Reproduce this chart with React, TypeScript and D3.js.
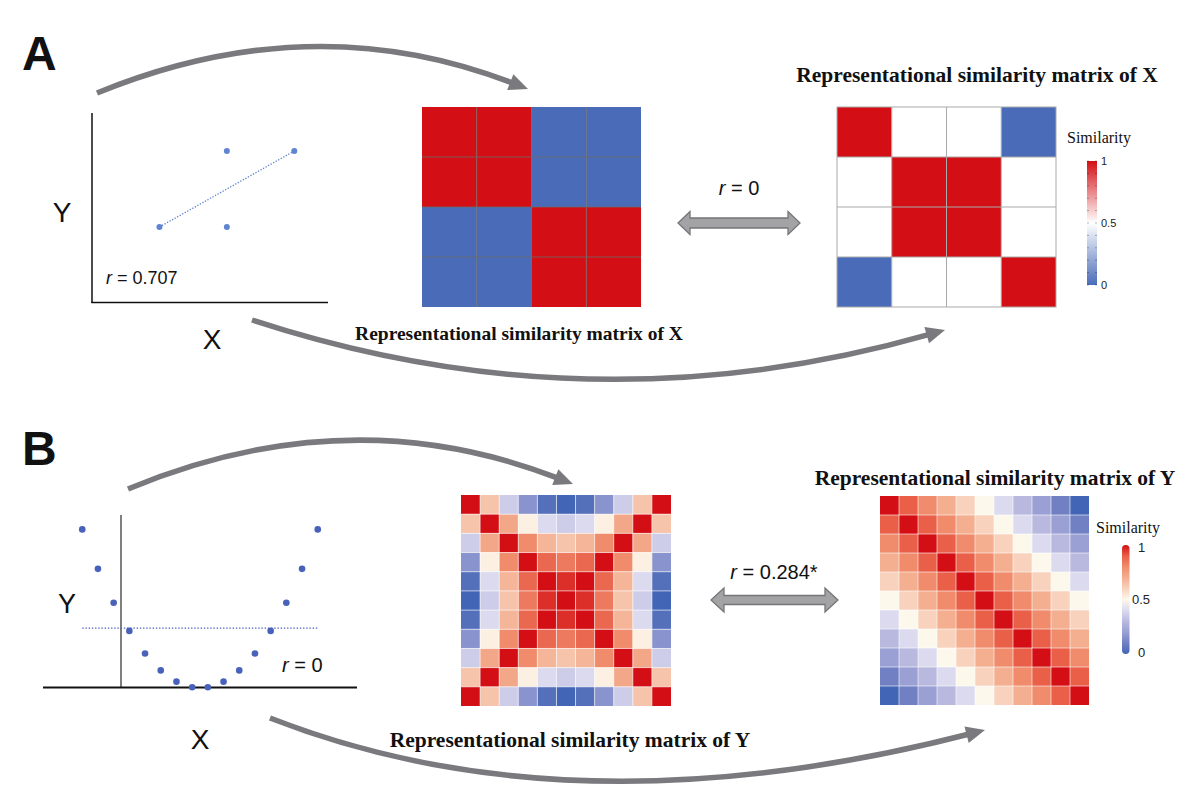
import React from "react";
import * as d3 from "d3";

// ---------- DATA ----------
// Panel A scatter (4 points) and its fitted line
const aPointsX = [1, 2, 2, 3];
const aPointsY = [1, 2, 1, 2];
const aFitX = [1, 3];
const aFitY = [1, 2];
const aR = "0.707";

// Panel A matrices (4x4)
const aMatrixX = [
  [1, 1, 0, 0],
  [1, 1, 0, 0],
  [0, 0, 1, 1],
  [0, 0, 1, 1],
];
const aMatrixRight = [
  [1, 0.5, 0.5, 0],
  [0.5, 1, 1, 0.5],
  [0.5, 1, 1, 0.5],
  [0, 0.5, 0.5, 1],
];
const aBetween = "0";

// Panel B scatter (16 points on a parabola)
const bPointsX = [-7.5, -6.5, -5.5, -4.5, -3.5, -2.5, -1.5, -0.5, 0.5, 1.5, 2.5, 3.5, 4.5, 5.5, 6.5, 7.5];
const bPointsY = [56.25, 42.25, 30.25, 20.25, 12.25, 6.25, 2.25, 0.25, 0.25, 2.25, 6.25, 12.25, 20.25, 30.25, 42.25, 56.25];
const bMeanY = 21.25;
const bR = "0";

// Panel B matrices (11x11)
const bMatrixLeft = [
  [1, 0.64, 0.36, 0.16, 0.04, 0, 0.04, 0.16, 0.36, 0.64, 1],
  [0.64, 1, 0.72, 0.52, 0.4, 0.36, 0.4, 0.52, 0.72, 1, 0.64],
  [0.36, 0.72, 1, 0.8, 0.68, 0.64, 0.68, 0.8, 1, 0.72, 0.36],
  [0.16, 0.52, 0.8, 1, 0.88, 0.84, 0.88, 1, 0.8, 0.52, 0.16],
  [0.04, 0.4, 0.68, 0.88, 1, 0.96, 1, 0.88, 0.68, 0.4, 0.04],
  [0, 0.36, 0.64, 0.84, 0.96, 1, 0.96, 0.84, 0.64, 0.36, 0],
  [0.04, 0.4, 0.68, 0.88, 1, 0.96, 1, 0.88, 0.68, 0.4, 0.04],
  [0.16, 0.52, 0.8, 1, 0.88, 0.84, 0.88, 1, 0.8, 0.52, 0.16],
  [0.36, 0.72, 1, 0.8, 0.68, 0.64, 0.68, 0.8, 1, 0.72, 0.36],
  [0.64, 1, 0.72, 0.52, 0.4, 0.36, 0.4, 0.52, 0.72, 1, 0.64],
  [1, 0.64, 0.36, 0.16, 0.04, 0, 0.04, 0.16, 0.36, 0.64, 1],
];
const bMatrixRight = [
  [1, 0.9, 0.8, 0.7, 0.6, 0.5, 0.4, 0.3, 0.2, 0.1, 0],
  [0.9, 1, 0.9, 0.8, 0.7, 0.6, 0.5, 0.4, 0.3, 0.2, 0.1],
  [0.8, 0.9, 1, 0.9, 0.8, 0.7, 0.6, 0.5, 0.4, 0.3, 0.2],
  [0.7, 0.8, 0.9, 1, 0.9, 0.8, 0.7, 0.6, 0.5, 0.4, 0.3],
  [0.6, 0.7, 0.8, 0.9, 1, 0.9, 0.8, 0.7, 0.6, 0.5, 0.4],
  [0.5, 0.6, 0.7, 0.8, 0.9, 1, 0.9, 0.8, 0.7, 0.6, 0.5],
  [0.4, 0.5, 0.6, 0.7, 0.8, 0.9, 1, 0.9, 0.8, 0.7, 0.6],
  [0.3, 0.4, 0.5, 0.6, 0.7, 0.8, 0.9, 1, 0.9, 0.8, 0.7],
  [0.2, 0.3, 0.4, 0.5, 0.6, 0.7, 0.8, 0.9, 1, 0.9, 0.8],
  [0.1, 0.2, 0.3, 0.4, 0.5, 0.6, 0.7, 0.8, 0.9, 1, 0.9],
  [0, 0.1, 0.2, 0.3, 0.4, 0.5, 0.6, 0.7, 0.8, 0.9, 1],
];
const bBetween = "0.284*";

const legendTicks = ["0", "0.5", "1"];
const titleX = "Representational similarity matrix of X";
const titleY = "Representational similarity matrix of Y";

// ---------- STYLE ----------
const SERIF = "'Liberation Serif', 'Times New Roman', serif";
const SANS = "'Liberation Sans', Arial, sans-serif";
const ARROW = "#7a7a7e";

const colorA = d3.scaleLinear<string>().domain([0, 0.5, 1]).range(["#4a6cb8", "#ffffff", "#d30f15"]);
const bStops = [0, 0.1, 0.2, 0.3, 0.4, 0.5, 0.6, 0.7, 0.8, 0.9, 1];
const bColors = ["#4266b5", "#7080c3", "#9aa0d3", "#b9b9df", "#dcdaef", "#fdf8ec", "#f8d2bd", "#f4ae90", "#f08c6c", "#e95f48", "#d30f15"];
const colorB = d3.scaleLinear<string>().domain(bStops).range(bColors).interpolate(d3.interpolateRgb);

type P = [number, number];

function CurvedArrow({ s, c, e, headLen = 19, headW = 17, width = 5.5 }: { s: P; c: P; e: P; headLen?: number; headW?: number; width?: number }) {
  const dx = e[0] - c[0];
  const dy = e[1] - c[1];
  const L = Math.hypot(dx, dy);
  const ux = dx / L, uy = dy / L;
  const base: P = [e[0] - ux * headLen * 0.85, e[1] - uy * headLen * 0.85];
  const hb: P = [e[0] - ux * headLen, e[1] - uy * headLen];
  const px = -uy, py = ux;
  const p = d3.path();
  p.moveTo(s[0], s[1]);
  p.quadraticCurveTo(c[0], c[1], base[0], base[1]);
  const head = d3.path();
  head.moveTo(e[0], e[1]);
  head.lineTo(hb[0] + px * headW / 2, hb[1] + py * headW / 2);
  head.lineTo(hb[0] - px * headW / 2, hb[1] - py * headW / 2);
  head.closePath();
  return (
    <g>
      <path d={p.toString()} fill="none" stroke={ARROW} strokeWidth={width} />
      <path d={head.toString()} fill={ARROW} />
    </g>
  );
}

function DoubleArrow({ x0, x1, cy, bh = 5, hh = 12, hl = 13 }: { x0: number; x1: number; cy: number; bh?: number; hh?: number; hl?: number }) {
  const pts: P[] = [
    [x0, cy], [x0 + hl, cy - hh], [x0 + hl, cy - bh], [x1 - hl, cy - bh], [x1 - hl, cy - hh],
    [x1, cy], [x1 - hl, cy + hh], [x1 - hl, cy + bh], [x0 + hl, cy + bh], [x0 + hl, cy + hh],
  ];
  const d = d3.line()(pts) + "Z";
  return <path d={d} fill="#a3a3a6" stroke="#76767a" strokeWidth={1.3} />;
}

function Matrix({ data, x0, x1, y0, y1, color, stroke, strokeW, border }: { data: number[][]; x0: number; x1: number; y0: number; y1: number; color: (v: number) => string; stroke: string; strokeW: number; border?: boolean }) {
  const n = data.length;
  const idx = d3.range(n);
  const xs = d3.scaleBand<number>().domain(idx).range([x0, x1]);
  const ys = d3.scaleBand<number>().domain(idx).range([y0, y1]);
  return (
    <g>
      {data.map((row, i) =>
        row.map((v, j) => (
          <rect key={i + "-" + j} x={xs(j)} y={ys(i)} width={xs.bandwidth()} height={ys.bandwidth()} fill={color(v)} />
        ))
      )}
      {idx.slice(1).map((k) => (
        <g key={"g" + k}>
          <line x1={xs(k)} x2={xs(k)} y1={y0} y2={y1} stroke={stroke} strokeWidth={strokeW} />
          <line x1={x0} x2={x1} y1={ys(k)} y2={ys(k)} stroke={stroke} strokeWidth={strokeW} />
        </g>
      ))}
      {border && <rect x={x0} y={y0} width={x1 - x0} height={y1 - y0} fill="none" stroke={stroke} strokeWidth={strokeW} />}
    </g>
  );
}

function RText({ x, y, value, size, anchor = "start" }: { x: number; y: number; value: string; size: number; anchor?: string }) {
  return (
    <text x={x} y={y} fontFamily={SANS} fontSize={size} textAnchor={anchor as any} fill="#111">
      <tspan fontStyle="italic">r</tspan>
      <tspan> = {value}</tspan>
    </text>
  );
}

export default function App() {
  // Panel A scatter scales
  const axs = d3.scaleLinear().domain([0, 3.5]).range([92, 328]);
  const ays = d3.scaleLinear().domain([0, 2.5]).range([303, 113]);
  const aLine = d3.line<number>().x((d, i) => axs(aFitX[i])).y((d, i) => ays(aFitY[i]));

  // Panel B scatter scales
  const bxs = d3.scaleLinear().domain([-10, 10]).range([43, 357]);
  const bys = d3.scaleLinear().domain([0, 61]).range([688, 516]);

  const legendA = d3.scaleLinear().domain([0, 1]).range([285, 161]);
  const legendB = d3.scaleLinear().domain([0, 1]).range([652, 547]);

  return (
    <svg width={1200} height={808} viewBox="0 0 1200 808" style={{ position: "absolute", left: 0, top: 0, background: "#fff" }}>
      <defs>
        <linearGradient id="gradA" x1="0" y1="1" x2="0" y2="0">
          {[0, 0.5, 1].map((t) => (
            <stop key={t} offset={t} stopColor={colorA(t)} />
          ))}
        </linearGradient>
        <linearGradient id="gradB" x1="0" y1="1" x2="0" y2="0">
          {bStops.map((t) => (
            <stop key={t} offset={t} stopColor={colorB(t)} />
          ))}
        </linearGradient>
      </defs>
      <rect x={0} y={0} width={1200} height={808} fill="#fff" />

      {/* ================= PANEL A ================= */}
      <text x={22} y={70} fontFamily={SANS} fontWeight="bold" fontSize={48} fill="#111">A</text>

      {/* scatter */}
      <line x1={92} x2={92} y1={113} y2={303} stroke="#111" strokeWidth={1.5} />
      <line x1={91.25} x2={328} y1={302.5} y2={302.5} stroke="#111" strokeWidth={1.5} />
      <path d={aLine(aFitX) || ""} fill="none" stroke="#5b80d0" strokeWidth={1.3} strokeDasharray="1.3,1.6" />
      {aPointsX.map((x, i) => (
        <circle key={i} cx={axs(x)} cy={ays(aPointsY[i])} r={3} fill="#5f84d2" />
      ))}
      <RText x={106} y={284} value={aR} size={18} />
      <text x={62} y={222} fontFamily={SANS} fontSize={28} textAnchor="middle" fill="#111">Y</text>
      <text x={212} y={349} fontFamily={SANS} fontSize={28} textAnchor="middle" fill="#111">X</text>

      <Matrix data={aMatrixX} x0={422} x1={641} y0={107} y1={307} color={colorA} stroke="#6a6a6a" strokeW={0.8} />
      <Matrix data={aMatrixRight} x0={837} x1={1056} y0={107} y1={307} color={colorA} stroke="#a9a9a9" strokeW={1} border />

      <text x={977} y={82} fontFamily={SERIF} fontWeight="bold" fontSize={21.5} textAnchor="middle" fill="#111">{titleX}</text>
      <text x={519} y={340} fontFamily={SERIF} fontWeight="bold" fontSize={19.5} textAnchor="middle" fill="#111">{titleX}</text>

      {/* legend A */}
      <text x={1067} y={143} fontFamily={SERIF} fontSize={16} fill="#111">Similarity</text>
      <rect x={1087} y={161} width={10} height={124} fill="url(#gradA)" />
      {d3.range(0, 1.0001, 0.1).map((t) => (
        <g key={t}>
          <line x1={1087} x2={1089} y1={legendA(t)} y2={legendA(t)} stroke="#000" strokeOpacity={0.35} strokeWidth={0.8} />
          <line x1={1095} x2={1097} y1={legendA(t)} y2={legendA(t)} stroke="#000" strokeOpacity={0.35} strokeWidth={0.8} />
        </g>
      ))}
      {legendTicks.map((t) => (
        <text key={t} x={1101} y={legendA(+t)} dy="0.35em" fontFamily={SANS} fontSize={11} fill="#222">{t}</text>
      ))}

      <RText x={739} y={195} value={aBetween} size={20} anchor="middle" />
      <DoubleArrow x0={678} x1={800} cy={223} bh={5} hh={11.5} hl={12} />

      <CurvedArrow s={[97, 93]} c={[312, 5]} e={[528, 89]} />
      <CurvedArrow s={[252, 320]} c={[590, 431]} e={[945, 330]} />

      {/* ================= PANEL B ================= */}
      <text x={22} y={465} fontFamily={SANS} fontWeight="bold" fontSize={48} fill="#111">B</text>

      <line x1={121} x2={121} y1={515} y2={688} stroke="#555" strokeWidth={1.5} />
      <line x1={43} x2={357} y1={687.5} y2={687.5} stroke="#111" strokeWidth={2} />
      <line x1={bxs(d3.min(bPointsX)!)} x2={bxs(d3.max(bPointsX)!)} y1={bys(bMeanY)} y2={bys(bMeanY)} stroke="#4a62b8" strokeWidth={1.4} strokeDasharray="1.4,1.8" />
      {bPointsX.map((x, i) => (
        <circle key={i} cx={bxs(x)} cy={bys(bPointsY[i])} r={3.3} fill="#4762b8" />
      ))}
      <RText x={282} y={672} value={bR} size={20} />
      <text x={67} y={613} fontFamily={SANS} fontSize={27} textAnchor="middle" fill="#111">Y</text>
      <text x={200} y={749} fontFamily={SANS} fontSize={28} textAnchor="middle" fill="#111">X</text>

      <Matrix data={bMatrixLeft} x0={461} x1={671} y0={495} y1={706} color={colorB} stroke="rgba(255,255,255,0.75)" strokeW={0.8} />
      <Matrix data={bMatrixRight} x0={880} x1={1089} y0={496} y1={705} color={colorB} stroke="rgba(255,255,255,0.75)" strokeW={0.8} />

      <text x={995} y={485} fontFamily={SERIF} fontWeight="bold" fontSize={21.5} textAnchor="middle" fill="#111">{titleY}</text>
      <text x={570} y={747} fontFamily={SERIF} fontWeight="bold" fontSize={21.5} textAnchor="middle" fill="#111">{titleY}</text>

      {/* legend B */}
      <text x={1096} y={533} fontFamily={SERIF} fontSize={16} fill="#111">Similarity</text>
      <rect x={1122} y={545} width={7.5} height={109} rx={3.7} fill="url(#gradB)" />
      {legendTicks.map((t) => (
        <text key={t} x={t === "0.5" ? 1132 : 1138} y={legendB(+t)} dy="0.35em" fontFamily={SANS} fontSize={13} fill="#222">{t}</text>
      ))}

      <RText x={774} y={579} value={bBetween} size={20} anchor="middle" />
      <DoubleArrow x0={711} x1={838} cy={600} bh={4.5} hh={12} hl={13} />

      <CurvedArrow s={[128, 489]} c={[349, 397]} e={[573, 484]} />
      <CurvedArrow s={[270, 718]} c={[572, 836]} e={[985, 730]} />
    </svg>
  );
}
